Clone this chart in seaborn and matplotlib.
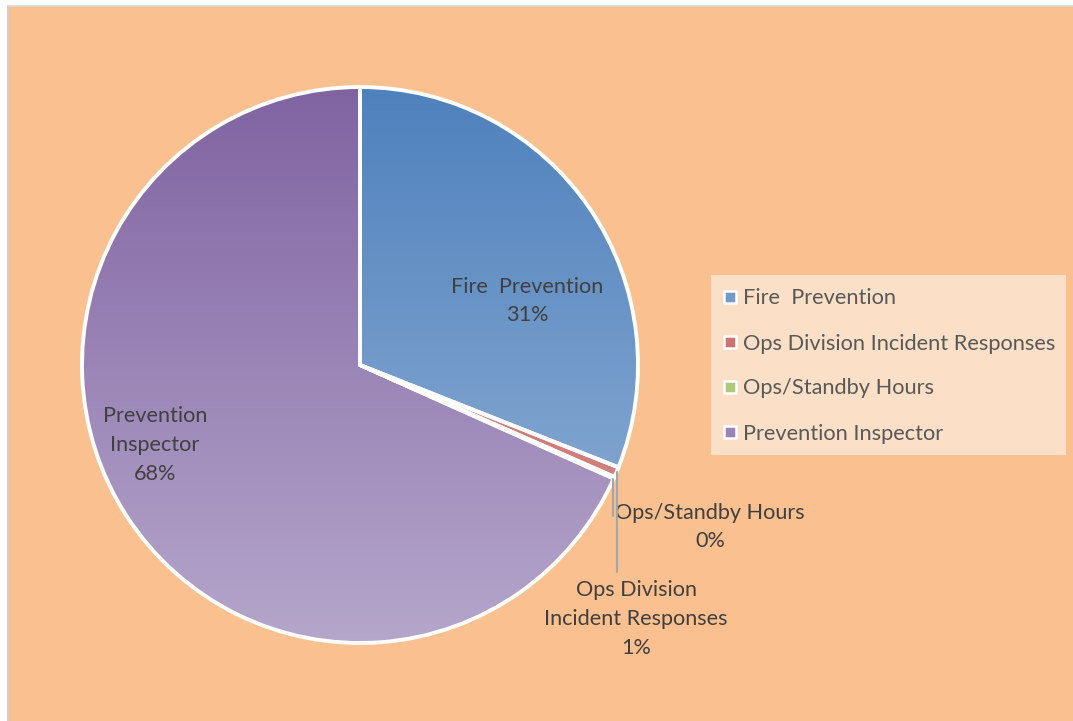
import numpy as np
import matplotlib
matplotlib.use("Agg")
import matplotlib.pyplot as plt
from matplotlib.patches import Rectangle
import seaborn as sns

# --- data ---
categories = ["Fire  Prevention", "Ops Division Incident Responses",
              "Ops/Standby Hours", "Prevention Inspector"]
shares = [31.0, 0.6, 0.1, 68.3]
slice_labels = ["Fire  Prevention\n31%", "Ops Division\nIncident Responses\n1%",
                "Ops/Standby Hours\n0%", "Prevention\nInspector\n68%"]

# top / bottom colours of each slice gradient
grad_top = ["#4F81BD", "#C0504D", "#9BBB59", "#8064A2"]
grad_bottom = ["#95B3D7", "#D99694", "#C3D69B", "#B5A6CB"]

W, H = 1073, 721
BG = "#FAC090"
TXT = "#404040"

sns.set_theme(style="white")
plt.rcParams['font.family'] = ['Lato', 'DejaVu Sans']

fig = plt.figure(figsize=(W / 100, H / 100), dpi=100, facecolor="white")
ax = fig.add_axes([0, 0, 1, 1])


def py(y):
    # pixel row (from top) -> data y
    return H - y


# background panel with thin grey frame on top/left
ax.add_patch(Rectangle((9, 0), W - 9, py(6), facecolor=BG, edgecolor="none", zorder=0))
ax.plot([7.5, 7.5], [0, py(5.5)], color="#D0D0D0", lw=1.5, zorder=0.5)
ax.plot([7.5, W], [py(5.5), py(5.5)], color="#D9D9D9", lw=1.2, zorder=0.5)

cx, cy, r = 360, py(365), 278
wedges, _ = ax.pie(shares, startangle=90, counterclock=False, radius=r,
                   center=(cx, cy), colors=grad_top,
                   wedgeprops=dict(edgecolor="white", linewidth=2.8))

grad = np.linspace(0, 1, 256).reshape(-1, 1)
for w, top, bot in zip(wedges, grad_top, grad_bottom):
    cmap = sns.blend_palette([top, bot], n_colors=256, as_cmap=True)
    im = ax.imshow(grad, cmap=cmap, origin="upper", aspect="auto",
                   extent=[cx - r, cx + r, cy - r, cy + r], zorder=1)
    im.set_clip_path(w)
    w.set_facecolor("none")
    w.set_zorder(2)

# slice labels
label_pos = [(527, 301), (636, 619), (710, 527), (155, 445)]
for txt, (x, y) in zip(slice_labels, label_pos):
    ax.text(x, py(y), txt, ha="center", va="center", fontsize=15.6,
            color=TXT, linespacing=1.55, zorder=3)

# leader lines for the tiny slices
ax.plot([613, 613], [py(479), py(516)], color="#A6A6A6", lw=1.5, zorder=3)
ax.plot([616.5, 616.5], [py(472), py(572)], color="#A6A6A6", lw=1.5, zorder=3)

# legend
ax.add_patch(Rectangle((711, py(455)), 355, 180, facecolor="#FCDFC7",
                       edgecolor="none", zorder=2))
leg_y = [297, 342, 387, 432]
mid = [sns.blend_palette([t, b], 3)[1] for t, b in zip(grad_top, grad_bottom)]
ax.scatter([730] * 4, [py(y) for y in leg_y], marker="s", s=70, c=mid,
           edgecolors="white", linewidths=1.8, zorder=3)
for name, y in zip(categories, leg_y):
    ax.text(743, py(y + 1.5), name, ha="left", va="center", fontsize=15.7,
            color="#595959", zorder=3)

ax.set_xlim(0, W)
ax.set_ylim(0, H)
ax.set_aspect("auto")
ax.axis("off")

fig.savefig("out.png", dpi=100, facecolor="white")
